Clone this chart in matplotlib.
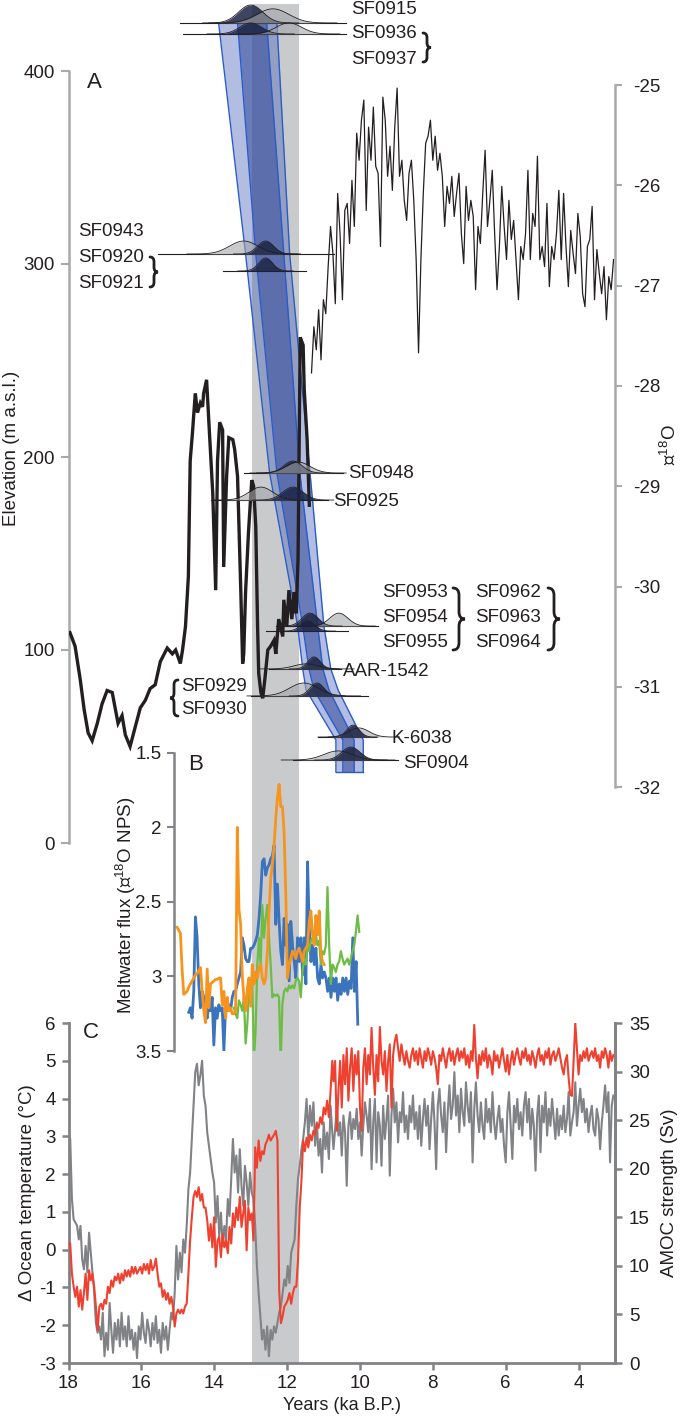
"""
Deglacial elevation, meltwater and ocean records, three stacked panels.
"""

import numpy as np
import matplotlib.pyplot as plt
from matplotlib.path import Path
from matplotlib.patches import PathPatch
from matplotlib.transforms import blended_transform_factory

plt.rcParams['font.family'] = ['Liberation Sans', 'DejaVu Sans']
plt.rcParams['mathtext.default'] = 'regular'
plt.rcParams['axes.unicode_minus'] = False

# * Panel A: elevation record (ka B.P., m a.s.l.)
elev_age = [17.96, 17.82, 17.68, 17.57, 17.46, 17.35, 17.21, 17.08, 16.94, 16.80,
            16.72, 16.64, 16.53, 16.44, 16.31, 16.17, 16.03, 15.89, 15.76, 15.62,
            15.48, 15.29, 15.15, 15.06, 14.93, 14.87, 14.79, 14.71, 14.66, 14.60,
            14.52, 14.46, 14.38, 14.32, 14.29, 14.21, 14.15, 14.04, 13.96, 13.91,
            13.85, 13.77, 13.74, 13.66, 13.60, 13.49, 13.44, 13.36, 13.27, 13.22,
            13.19, 13.14, 13.06, 12.97, 12.92, 12.86, 12.81, 12.78, 12.72, 12.67,
            12.61, 12.53, 12.45, 12.36, 12.31, 12.23, 12.12, 12.09, 12.01, 11.95,
            11.87, 11.81, 11.75, 11.70, 11.64, 11.56, 11.53, 11.45, 11.39]
elev = [109, 102, 85, 69, 57, 53, 62, 72, 79, 78,
        70, 62, 66, 56, 50, 60, 70, 74, 80, 82,
        94, 101, 98, 100, 93, 100, 112, 138, 198, 212,
        233, 223, 228, 226, 233, 240, 219, 181, 131, 198,
        218, 214, 143, 190, 210, 209, 204, 190, 130, 93,
        98, 130, 161, 188, 185, 164, 112, 88, 78, 75,
        85, 100, 102, 105, 98, 116, 107, 126, 112, 131,
        116, 130, 119, 147, 262, 258, 235, 209, 175]

# * Panel A: d18O record, 11.33 -> 3.04 ka
d18o = [-27.87, -27.41, -27.64, -27.24, -27.74, -27.14, -27.28, -26.81, -26.41, -26.68,
        -27.18, -26.08, -26.48, -27.14, -26.25, -26.18, -26.58, -25.95, -26.41, -25.48,
        -25.75, -25.35, -25.15, -26.25, -25.42, -25.75, -25.22, -25.81, -25.88, -26.61,
        -25.12, -25.35, -25.91, -25.61, -26.05, -25.42, -25.03, -25.91, -25.75, -26.15,
        -26.35, -25.88, -25.75, -26.15, -26.74, -27.67, -26.74, -26.08, -25.58, -25.51,
        -25.35, -25.75, -25.51, -25.85, -25.68, -25.91, -26.41, -26.01, -26.18, -25.91,
        -26.31, -26.08, -25.88, -26.48, -26.78, -26.01, -26.35, -26.15, -26.31, -27.04,
        -26.41, -26.58, -26.08, -25.65, -26.41, -26.15, -25.85, -26.48, -27.04, -26.61,
        -26.01, -26.41, -26.74, -26.15, -26.54, -26.35, -26.74, -27.14, -26.61, -26.74,
        -26.48, -25.85, -26.74, -26.28, -26.41, -25.71, -26.74, -26.61, -26.81, -26.18,
        -27.01, -26.61, -26.74, -26.48, -26.05, -26.74, -26.08, -26.61, -27.01, -26.45,
        -26.68, -26.88, -26.28, -26.51, -27.08, -27.21, -26.61, -26.54, -26.21, -27.14,
        -26.64, -26.88, -27.08, -26.81, -27.34, -26.91, -27.04, -26.74]

# * Panel A: age probability distributions
row_names = ['SF0915', 'SF0936', 'SF0943', 'SF0921', 'SF0948', 'SF0925',
             'SF0953', 'SF0954', 'AAR-1542', 'SF0929', 'K-6038', 'SF0904']
row_elev = [424.9, 419.2, 305.2, 296.4, 191.7, 177.7, 112.4, 109.8, 90.2, 76.2, 54.9, 43.0]
row_x0 = [14.93, 14.87, 15.53, 13.77, 13.19, 14.10, 12.31, 12.59, 12.50, 13.00, 11.15, 11.84]
row_x1 = [10.38, 10.38, 10.71, 11.49, 10.46, 10.88, 9.50, 10.33, 10.52, 9.78, 9.56, 8.95]

dist_row = [0, 0, 1, 1, 2, 2, 3, 4, 4, 5, 5, 6, 6, 7, 8, 8, 9, 9, 10, 10, 11, 11]
dist_kind = ['dark', 'grey', 'dark', 'grey', 'grey', 'dark', 'dark', 'dark', 'grey', 'grey',
             'dark', 'dark', 'grey', 'dark', 'grey', 'dark', 'grey', 'dark', 'grey', 'dark',
             'grey', 'dark']
dist_mean = [13.00, 12.39, 13.00, 11.95, 13.19, 12.59, 12.59, 11.84, 11.70, 12.72,
             11.84, 11.37, 10.58, 11.43, 11.48, 11.26, 11.54, 11.18, 10.03, 10.19,
             10.60, 10.25]
dist_sd = [0.33, 0.44, 0.30, 0.35, 0.39, 0.22, 0.19, 0.25, 0.33, 0.33,
           0.28, 0.22, 0.25, 0.19, 0.33, 0.17, 0.39, 0.19, 0.28, 0.17,
           0.39, 0.25]
dist_h = [9.3, 7.3, 5.7, 5.7, 6.7, 6.7, 6.7, 6.2, 5.7, 6.7,
          6.7, 6.7, 6.7, 5.2, 2.6, 6.2, 6.7, 6.7, 4.7, 6.2,
          4.7, 6.7]

# * Panel A: thinning band edges (m a.s.l. vs ka)
band_elev = [424.9, 305.2, 191.7, 112.4, 90.2, 79.3, 53.4, 36.8]
outer_l = [13.88, 13.14, 12.48, 11.71, 11.57, 11.48, 10.66, 10.66]
inner_l = [13.36, 12.86, 12.28, 11.57, 11.40, 11.26, 10.47, 10.47]
inner_r = [12.56, 12.09, 11.65, 11.16, 11.02, 10.85, 10.16, 10.16]
outer_r = [12.28, 11.93, 11.37, 10.99, 10.80, 10.60, 9.91, 9.91]

# * Younger Dryas
yd = [12.97, 11.66]

# * Panel B: meltwater flux
orange_b = [2.67, 2.69, 2.71, 2.95, 3.12, 3.11, 3.10, 3.07, 3.05, 3.03,
            3.01, 2.99, 2.98, 2.96, 2.94, 3.10, 3.23, 3.31, 2.95, 3.21,
            3.05, 3.04, 3.03, 3.02, 3.02, 3.01, 3.01, 3.19, 3.10, 3.28,
            3.14, 3.23, 3.21, 3.25, 3.25, 3.23, 2.00, 2.55, 2.65, 3.00,
            3.15, 3.23, 3.08, 3.01, 3.20, 2.92, 3.05, 2.97, 3.01, 2.94,
            2.92, 3.01, 3.05, 3.01, 2.83, 2.56, 2.34, 2.25, 2.12, 1.94,
            1.80, 1.71, 1.86, 1.86, 2.03, 2.45, 3.01, 2.92, 2.88, 2.83,
            2.85, 2.88, 2.83, 2.81, 2.85, 2.90, 2.83, 2.81, 2.79, 2.63,
            2.56, 2.72, 2.79, 2.59, 2.72, 2.56, 2.85, 2.90, 2.92]
blue_b = [3.24, 3.21, 3.28, 3.10, 2.60, 2.74, 3.05, 3.21, 3.10, 3.14,
          3.23, 3.28, 3.19, 3.23, 3.14, 3.46, 3.21, 3.28, 3.19, 3.23,
          3.21, 3.50, 3.21, 3.23, 3.19, 3.23, 3.14, 3.10, 3.10, 3.05,
          3.01, 2.97, 2.74, 2.79, 2.88, 2.90, 2.90, 2.81, 2.81, 2.79,
          2.76, 2.72, 2.61, 2.45, 2.23, 2.21, 2.32, 2.27, 2.25, 2.21,
          2.19, 2.12, 2.65, 2.38, 2.63, 2.83, 2.92, 2.61, 2.79, 2.65,
          3.03, 2.63, 2.79, 2.90, 3.01, 2.74, 2.90, 2.74, 2.99, 2.74,
          3.05, 2.23, 2.67, 2.90, 2.79, 2.92, 2.81, 3.01, 3.05, 2.92,
          3.01, 2.97, 3.01, 3.10, 3.01, 3.14, 3.01, 3.10, 3.01, 3.16,
          3.05, 3.12, 3.01, 3.10, 3.01, 3.12, 3.03, 3.08, 2.74, 3.10,
          2.90, 3.32]
green_b = [3.21, 3.25, 3.28, 3.16, 3.19, 3.23, 3.14, 3.45, 3.32, 3.10,
           3.14, 3.05, 3.55, 3.36, 2.92, 2.74, 2.92, 2.52, 2.74, 2.61,
           2.52, 2.74, 2.92, 3.14, 3.12, 3.13, 3.12, 3.14, 3.58, 3.19,
           3.10, 3.08, 3.10, 3.06, 3.08, 3.06, 3.08, 3.03, 3.01, 3.03,
           3.14, 2.97, 2.88, 2.92, 2.79, 2.83, 2.76, 2.74, 2.79, 2.72,
           2.79, 2.76, 2.92, 2.83, 2.85, 2.79, 2.40, 2.79, 3.05, 2.92,
           2.94, 2.97, 2.92, 2.90, 2.83, 2.88, 2.92, 2.90, 2.88, 2.92,
           2.88, 2.83, 2.79, 2.70, 2.59, 2.70]

# * Panel C: ocean temperature anomaly (deg C)
temp_old = [3.10, 2.93, 1.34, 0.80, 0.72, 0.63, 0.27, 0.63, -0.26, -0.52,
            0.10, -0.60, 0.45, -0.08, -0.60, -1.14, -1.94, -2.20, -2.03, -2.38,
            -1.67, -2.82, -2.20, -2.65, -1.41, -2.12, -2.73, -1.94, -2.38, -1.85,
            -2.56, -1.67, -2.38, -2.03, -2.56, -1.76, -2.38, -2.12, -2.65, -2.20,
            -2.87, -2.03, -2.38, -1.67, -2.20, -2.47, -1.85, -2.12, -2.56, -1.94,
            -2.38, -1.76, -2.47, -2.12, -2.73, -1.94, -2.38, -2.03, -2.65, -2.12,
            -1.67, -1.85, -1.14, 0.10, -0.79, -0.08, -0.60, 0.27, -0.08, 0.63,
            1.60, 2.04, 2.93, 3.81, 4.70, 4.92, 4.35, 4.62, 5.00, 4.08,
            3.81, 3.10, 2.75, 2.40, 2.04, 1.78, 0.72, 1.42, 0.36, 0.98,
            0.10, 0.63, 0.27, 1.34, 0.89, 1.87, 2.93, 2.04, 2.49, 1.51,
            2.66, 1.69, 1.16, 2.22, 1.78, 1.16, 2.04, 1.51, 1.34, 0.63,
            -0.43, -1.14, -1.76, -2.38, -2.12, -2.65, -2.03, -2.82, -2.12, -2.38,
            -2.03, -2.20, -1.94, -1.67, -1.50, -1.14, -0.79, -0.96, -0.43, -0.88,
            -0.08, 0.10, 0.27, 1.16, 1.87, 2.22, 2.66, 2.93, 3.37, 3.99,
            2.93, 3.81, 3.28, 3.90, 2.75, 3.37, 2.49, 2.93, 2.04, 3.37,
            2.66, 3.10, 2.40, 3.81, 3.10]
temp_new = [2.66, 3.19, 3.81, 3.02, 3.37, 2.49, 3.55, 3.11, 1.69, 3.28,
            3.64, 2.93, 3.46, 3.19, 3.73, 2.93, 3.37, 2.49, 3.28, 3.90,
            3.55, 3.11, 3.99, 2.13, 3.37, 3.99, 2.31, 3.64, 3.28, 2.22,
            3.81, 2.93, 3.46, 4.08, 1.96, 3.55, 4.26, 3.37, 3.90, 2.84,
            3.64, 3.37, 4.17, 3.11, 3.55, 2.93, 3.81, 3.37, 4.08, 3.19,
            3.64, 2.93, 3.81, 2.75, 3.46, 3.99, 3.28, 3.81, 2.66, 3.46,
            4.17, 3.37, 2.13, 3.81, 4.26, 3.55, 3.11, 3.90, 2.58, 3.64,
            4.35, 3.46, 3.81, 4.70, 3.55, 4.08, 3.11, 4.26, 3.64, 3.28,
            4.43, 3.81, 3.37, 4.17, 2.31, 3.73, 4.43, 3.55, 3.11, 3.90,
            3.28, 2.93, 3.99, 3.37, 3.73, 3.11, 4.17, 3.37, 2.93, 3.46,
            3.81, 3.11, 3.46, 2.75, 2.31, 3.64, 4.17, 3.28, 2.40, 3.81,
            3.37, 3.99, 3.19, 3.64, 3.02, 3.81, 4.17, 3.37, 3.99, 2.93,
            3.73, 3.28, 2.09, 3.55, 4.08, 2.58, 3.81, 3.37, 4.17, 3.02,
            3.73, 3.28, 3.99, 3.46, 2.93, 3.73, 3.02, 3.55, 3.19, 3.81,
            3.11, 3.46, 4.17, 3.02, 3.37, 3.64, 4.43, 3.28, 3.81, 4.26,
            3.64, 3.99, 3.37, 3.73, 3.11, 3.55, 3.81, 3.19, 3.02, 3.73,
            3.46, 2.66, 3.37, 3.81, 4.35, 3.64, 4.17, 2.31, 3.81, 4.08]

# * Panel C: AMOC strength (Sv)
amoc_old = [12.46, 12.30, 9.20, 7.85, 6.80, 7.85, 5.80, 7.50, 5.50, 7.20,
            9.20, 6.50, 9.55, 8.50, 9.20, 7.85, 5.80, 3.40, 5.80, 6.10,
            5.50, 6.50, 6.10, 7.85, 7.20, 8.50, 7.85, 8.90, 8.50, 9.20,
            8.20, 9.20, 8.50, 9.55, 8.90, 9.55, 8.90, 9.90, 9.20, 9.90,
            9.20, 9.55, 9.90, 9.20, 10.20, 9.55, 10.20, 9.20, 10.60, 9.55,
            9.90, 10.75, 9.20, 7.85, 8.20, 6.80, 7.50, 6.50, 7.20, 6.10,
            6.80, 5.80, 3.75, 5.10, 5.50, 5.10, 5.50, 5.10, 5.80, 6.10,
            9.20, 12.60, 15.00, 17.10, 17.70, 17.10, 18.10, 16.70, 17.40, 16.00,
            16.00, 14.70, 12.60, 14.30, 11.90, 15.00, 9.90, 12.60, 13.00, 10.90,
            13.30, 11.90, 12.60, 11.30, 14.00, 12.30, 15.40, 14.00, 16.00, 14.70,
            17.10, 14.00, 15.40, 16.70, 11.60, 16.00, 14.70, 15.40, 12.60, 22.20,
            20.10, 22.90, 20.80, 21.80, 21.50, 22.50, 22.90, 23.50, 22.90, 23.20,
            23.50, 23.90, 22.90, 7.50, 4.10, 4.80, 5.80, 6.10, 6.50, 7.20,
            6.10, 7.20, 7.85, 7.85, 10.60, 16.00, 18.80, 22.90, 21.80, 23.20,
            22.20, 23.50, 22.90, 23.90, 23.50, 24.60, 24.20, 25.30, 24.60, 26.30,
            25.60, 27.00, 25.30, 28.00, 31.10]
amoc_new = [29.0, 31.1, 23.9, 28.0, 31.1, 26.3, 31.7, 28.7, 32.4, 27.0,
            30.4, 32.4, 28.0, 31.7, 29.7, 32.1, 26.3, 23.9, 30.4, 32.4,
            28.7, 31.7, 29.7, 34.5, 30.4, 27.6, 31.7, 29.0, 34.6, 31.1,
            29.7, 32.1, 28.0, 31.1, 32.8, 26.3, 31.7, 33.1, 33.8, 32.4,
            31.1, 32.8, 31.7, 30.7, 32.1, 31.1, 30.4, 31.7, 32.4, 31.1,
            32.1, 30.7, 32.4, 31.4, 30.4, 32.1, 31.1, 32.4, 31.7, 30.7,
            32.1, 31.4, 30.4, 28.7, 31.7, 31.1, 32.4, 31.4, 30.4, 31.7,
            32.4, 31.1, 32.1, 30.7, 31.7, 32.4, 31.1, 32.1, 31.4, 32.4,
            30.7, 31.7, 30.4, 32.1, 31.1, 34.8, 31.4, 29.3, 31.7, 30.7,
            32.1, 31.1, 32.4, 30.4, 31.7, 31.1, 29.7, 32.1, 31.1, 31.7,
            30.4, 31.4, 32.4, 31.1, 30.0, 31.7, 29.7, 31.1, 32.1, 30.7,
            31.7, 32.4, 31.4, 30.7, 32.1, 31.4, 32.4, 31.1, 31.7, 30.7,
            32.1, 31.4, 30.4, 31.7, 32.4, 31.1, 31.7, 30.7, 32.1, 31.4,
            32.4, 30.7, 31.7, 32.1, 31.1, 31.7, 32.4, 31.4, 30.4, 29.7,
            31.1, 31.7, 29.3, 27.6, 27.5, 31.1, 35.0, 32.4, 29.7, 31.7,
            31.1, 32.1, 31.4, 32.4, 31.1, 31.7, 32.1, 31.4, 32.4, 31.1,
            31.7, 30.4, 32.1, 31.4, 32.4, 31.7, 30.4, 32.1, 31.1, 31.7]

# * Sampling grids (ka B.P.), end points
d18o_age = np.linspace(11.33, 3.04, len(d18o))
orange_age = np.linspace(15.02, 10.98, len(orange_b))
blue_age = np.linspace(14.70, 10.06, len(blue_b))
green_age = np.linspace(13.46, 10.02, len(green_b))
c_age = np.concatenate([np.linspace(18.0, 10.76, len(temp_old)),
                        np.linspace(10.727, 3.045, len(temp_new))])
temp = np.concatenate([temp_old, temp_new])
amoc = np.concatenate([amoc_old, amoc_new])

W_PX, H_PX = 685, 1416
TXT = '#231f20'
AX_A = '#a7a9ac'
AX_C = '#808285'


def fb(top, bottom):
    """Axes box from pixel rows."""
    left, right = 68.5, 615
    return [left / W_PX, 1 - bottom / H_PX, (right - left) / W_PX, (bottom - top) / H_PX]


def brace(ax, x, y0, y1, w, lw=2.0):
    """Curly brace in pixel coords; tip at x + w (w < 0 points left)."""
    ym = (y0 + y1) / 2
    r = min(abs(w) * 0.6, (y1 - y0) / 4)
    xm = x + w * 0.5
    verts = [(x, y0), (xm, y0), (xm, y0 + r), (xm, ym - r), (xm, ym), (x + w, ym),
             (xm, ym), (xm, ym + r), (xm, y1 - r), (xm, y1), (x, y1)]
    codes = [Path.MOVETO, Path.CURVE3, Path.CURVE3, Path.LINETO, Path.CURVE3, Path.CURVE3,
             Path.CURVE3, Path.CURVE3, Path.LINETO, Path.CURVE3, Path.CURVE3]
    ax.add_patch(PathPatch(Path(verts, codes), fill=False, lw=lw, color=TXT,
                           capstyle='round'))


def label(x, y, s, ha='left', size=13.5):
    fig.text(x / W_PX, 1 - y / H_PX, s, ha=ha, va='center', fontsize=size, color=TXT)


fig = plt.figure(figsize=(6.85, 14.16), dpi=100)

# * Panel C first so the grey band sits underneath everything
ax_c = fig.add_axes(fb(1023, 1363), facecolor='none')
ax_c.set_xlim(18, 3)
ax_c.set_ylim(-3, 6)
trans = blended_transform_factory(ax_c.transData, fig.transFigure)
ax_c.add_patch(plt.Rectangle((yd[0], 1 - 1363 / H_PX), yd[1] - yd[0], (1363 - 4) / H_PX,
                             transform=trans, color='#c9cacc', lw=0, zorder=0,
                             clip_on=False))
ax_c.plot(c_age, temp, color='#808285', lw=1.5, zorder=2)
ax_c.spines['top'].set_visible(False)
for s in ['left', 'bottom', 'right']:
    ax_c.spines[s].set_color(AX_C)
    ax_c.spines[s].set_linewidth(2)
ax_c.set_xticks([18, 16, 14, 12, 10, 8, 6, 4])
ax_c.set_yticks(range(-3, 7))
ax_c.tick_params(colors=AX_C, labelcolor=TXT, labelsize=13.5, width=1.8, length=5, pad=4)
ax_c.set_xlabel('Years (ka B.P.)', fontsize=13, color=TXT, labelpad=3)
ax_c.set_ylabel('Δ Ocean temperature (°C)', fontsize=13.5, color=TXT, labelpad=2)

ax_c2 = ax_c.twinx()
ax_c2.set_ylim(0, 35)
ax_c2.plot(c_age, amoc, color='#ee4130', lw=1.5)
for s in ['left', 'bottom', 'top']:
    ax_c2.spines[s].set_visible(False)
ax_c2.spines['right'].set_color(AX_C)
ax_c2.spines['right'].set_linewidth(2)
ax_c2.set_yticks(range(0, 36, 5))
ax_c2.tick_params(colors=AX_C, labelcolor=TXT, labelsize=13.5, width=1.8, length=5, pad=5)
ax_c2.set_ylabel('AMOC strength (Sv)', fontsize=13.5, color=TXT, rotation=90, labelpad=8)

# * Panel A
ax_a = fig.add_axes(fb(71, 843), facecolor='none')
ax_a.set_xlim(18, 3)
ax_a.set_ylim(0, 400)

band_kw = dict(clip_on=False, lw=0)
ax_a.fill_betweenx(band_elev, outer_l, outer_r, color='#4a63b8', alpha=0.42, zorder=2,
                   **band_kw)
ax_a.fill_betweenx(band_elev, inner_l, inner_r, color='#3a4f9f', alpha=0.6, zorder=2,
                   **band_kw)
for edge in [outer_l, inner_l, inner_r, outer_r]:
    ax_a.plot(edge, band_elev, color='#2a5cc8', lw=1.0, clip_on=False, zorder=3)
ax_a.plot([outer_l[-1], outer_r[-1]], [band_elev[-1], band_elev[-1]], color='#2a5cc8',
          lw=1.0, clip_on=False, zorder=3)

ax_a.plot(elev_age, elev, color=TXT, lw=2.4, zorder=4, solid_joinstyle='miter')

for i in range(len(row_names)):
    ax_a.plot([row_x0[i], row_x1[i]], [row_elev[i], row_elev[i]], color=TXT, lw=0.8,
              clip_on=False, zorder=5)
for r, kind, m, sd, h in zip(dist_row, dist_kind, dist_mean, dist_sd, dist_h):
    xs = np.linspace(m - 4 * sd, m + 4 * sd, 120)
    ys = row_elev[r] + h * np.exp(-0.5 * ((xs - m) / sd) ** 2)
    if kind == 'dark':
        fc, a = '#1b2444', 0.85
    else:
        fc, a = '#a3a5a8', 0.6
    ax_a.fill_between(xs, row_elev[r], ys, color=fc, alpha=a, lw=0, clip_on=False, zorder=6)
    ax_a.plot(xs, ys, color=TXT, lw=0.6, clip_on=False, zorder=7)

for s in ['top', 'bottom', 'right']:
    ax_a.spines[s].set_visible(False)
ax_a.spines['left'].set_color(AX_A)
ax_a.spines['left'].set_linewidth(1.8)
ax_a.set_xticks([])
ax_a.set_yticks([0, 100, 200, 300, 400])
ax_a.tick_params(axis='y', colors=AX_A, labelcolor=TXT, labelsize=13.5, width=1.5,
                 length=6, pad=4)

ax_a2 = ax_a.twinx()
ax_a2.set_ylim(-32.557, -24.86)
ax_a2.plot(d18o_age, d18o, color=TXT, lw=0.9)
for s in ['top', 'bottom', 'left']:
    ax_a2.spines[s].set_visible(False)
ax_a2.spines['right'].set_color(AX_A)
ax_a2.spines['right'].set_linewidth(1.8)
ax_a2.spines['right'].set_bounds(-32, -25)
ax_a2.set_yticks(range(-32, -24))
ax_a2.tick_params(axis='y', colors=AX_A, labelcolor=TXT, labelsize=13.5, width=1.5,
                  length=5, pad=8)

# * Panel B
ax_b = fig.add_axes(fb(753, 1051), facecolor='none')
ax_b.set_xlim(18, 3)
ax_b.set_ylim(3.5, 1.5)
ax_b.plot(blue_age, blue_b, color='#3b73bd', lw=2.0)
ax_b.plot(green_age, green_b, color='#6cbd45', lw=1.6)
ax_b.plot(orange_age, orange_b, color='#f7941d', lw=2.0)
for s in ['top', 'bottom', 'right']:
    ax_b.spines[s].set_visible(False)
ax_b.spines['left'].set_position(('data', 15.1))
ax_b.spines['left'].set_color(AX_C)
ax_b.spines['left'].set_linewidth(1.8)
ax_b.set_xticks([])
ax_b.set_yticks([1.5, 2, 2.5, 3, 3.5])
ax_b.set_yticklabels(['1.5', '2', '2.5', '3', '3.5'])
ax_b.tick_params(axis='y', colors=AX_C, labelcolor=TXT, labelsize=13.5, width=1.5,
                 length=5, pad=4)

# * Overlay for labels and braces, in pixel coordinates
ov = fig.add_axes([0, 0, 1, 1], facecolor='none')
ov.set_xlim(0, W_PX)
ov.set_ylim(H_PX, 0)
ov.axis('off')

label(87, 82, 'A', size=16)
label(188, 764, 'B', size=16)
label(83, 1032, 'C', size=16)

fig.text(12 / W_PX, 1 - 448 / H_PX, 'Elevation (m a.s.l.)', rotation=90, ha='center',
         va='center', fontsize=13.5, color=TXT)
fig.text(669 / W_PX, 1 - 445 / H_PX, '⊠$^{18}$O', rotation=90, ha='center', va='center',
         fontsize=13.5, color=TXT)
fig.text(126 / W_PX, 1 - 905 / H_PX, 'Meltwater flux (⊠$^{18}$O NPS)', rotation=90,
         ha='center', va='center', fontsize=13.5, color=TXT)

label(351, 9, 'SF0915')
label(351, 34, 'SF0936')
label(351, 60, 'SF0937')
brace(ov, 423, 33, 62, 8)

label(78, 231, 'SF0943')
label(78, 257, 'SF0920')
label(78, 283, 'SF0921')
brace(ov, 150, 257, 287, 8)

label(348, 473, 'SF0948')
label(333, 501, 'SF0925')

label(382, 593, 'SF0953')
label(382, 618, 'SF0954')
label(382, 643, 'SF0955')
brace(ov, 453, 588, 650, 12)
label(475, 593, 'SF0962')
label(475, 618, 'SF0963')
label(475, 643, 'SF0964')
brace(ov, 548, 588, 650, 12)

label(343, 671, 'AAR-1542')
label(247, 687, 'SF0929', ha='right')
label(247, 709, 'SF0930', ha='right')
brace(ov, 178, 680, 716, -8)
label(392, 738, 'K-6038')
label(403, 763, 'SF0904')

fig.savefig('out.png', dpi=100)
